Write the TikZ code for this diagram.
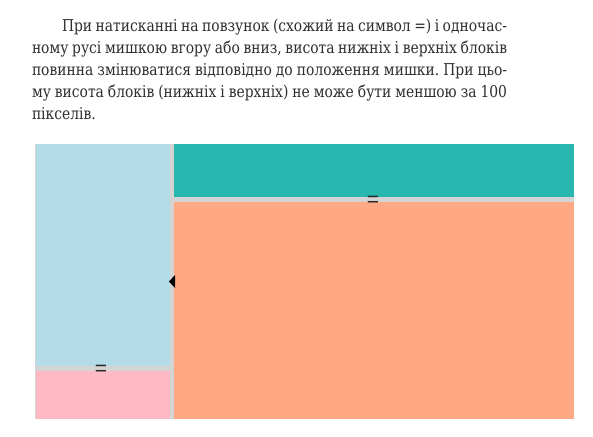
\documentclass[tikz,border=0pt]{standalone}
\usepackage{fontspec}
\newfontfamily\bodyfont[FakeStretch=0.85]{DejaVu Serif}
\newfontfamily\eqfont{Liberation Sans}
\frenchspacing
\definecolor{bluebox}{HTML}{B4DCE8}
\definecolor{tealbox}{HTML}{29B8B0}
\definecolor{salmonbox}{HTML}{FEA984}
\definecolor{pinkbox}{HTML}{FFB9C4}
\definecolor{gapgray}{HTML}{D4D4D4}
\definecolor{textgray}{HTML}{2E2E2E}
\tikzset{
  block/.style={rectangle, draw=none, inner sep=0pt, outer sep=0pt, anchor=north west},
  textline/.style={anchor=base west, inner sep=0pt, outer sep=0pt, text=textgray,
    font=\bodyfont\fontsize{16.3}{22}\selectfont\frenchspacing},
  handle/.style={anchor=base, inner sep=0pt, text=textgray!90!black,
    font=\eqfont\fontsize{21}{21}\selectfont}
}
\begin{document}
\begin{tikzpicture}[x=1pt,y=-1pt]
\useasboundingbox (0,0) rectangle (593,436);
\fill[white] (0,0) rectangle (593,436);
% text
\node[textline] (l1) at (62,31) {\makebox[445pt][s]{При натисканні на повзунок (схожий на символ =) і одночас-}};
\node[textline] (l2) at (32,53) {\makebox[475pt][s]{ному русі мишкою вгору або вниз, висота нижніх і верхніх блоків}};
\node[textline] (l3) at (32,75) {\makebox[475pt][s]{повинна змінюватися відповідно до положення мишки. При цьо-}};
\node[textline] (l4) at (32,97) {\makebox[475pt][s]{му висота блоків (нижніх і верхніх) не може бути меншою за 100}};
\node[textline] (l5) at (32,119) {пікселів.};
% blocks
\node[block, fill=gapgray, minimum width=539.5pt, minimum height=274.5pt] (bg) at (34.5,144) {};
\node[block, fill=bluebox, minimum width=134pt, minimum height=222pt] (leftup) at (35.5,144) {};
\node[block, fill=pinkbox, minimum width=134pt, minimum height=47.5pt] (leftdown) at (35.5,371) {};
\node[block, fill=tealbox, minimum width=400pt, minimum height=53pt] (rightup) at (174,144) {};
\node[block, fill=salmonbox, minimum width=400pt, minimum height=216.5pt] (rightdown) at (174,202) {};
% handles
\node[handle] (hright) at (373,206.5) {=};
\node[handle] (hleft) at (101,375.2) {=};
\fill[black] (169,281.5) -- (175,275) -- (175,288) -- cycle;
\end{tikzpicture}
\end{document}
